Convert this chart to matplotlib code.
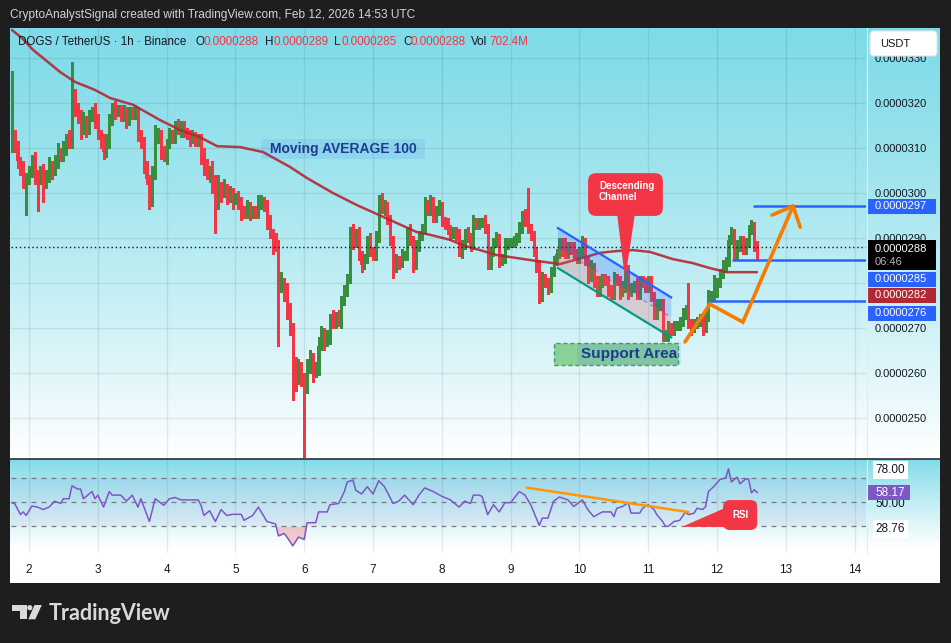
import matplotlib
matplotlib.use("Agg")
import matplotlib.pyplot as plt
import numpy as np
from matplotlib.patches import Rectangle, Polygon, FancyBboxPatch, Circle

plt.rcParams['font.family'] = ['Liberation Sans', 'DejaVu Sans']

# ---------------- data (prices in units of 1e-7 USDT) ----------------
hour_start = -6          # first candle = Feb 1 18:00, hours counted from Feb 2 00:00
first_open = 310

close_feb01 = [313, 310, 307, 305, 303, 303]
close_feb02 = [305, 307, 304, 303, 305, 302, 304, 306, 305, 307, 309, 308,
               310, 312, 311, 320, 318, 317, 314, 316, 314, 317, 318, 316]
close_feb03 = [313, 312, 309, 311, 316, 319, 318, 318.5, 317, 318, 316, 318,
               317.5, 318, 313, 311, 306, 303, 298, 304, 312, 313, 309, 308]
close_feb04 = [311, 313, 312, 315, 314, 315, 313.5, 313, 312, 312.5, 311.5, 312,
               308, 306, 304, 305, 302, 298, 301, 300, 301, 299, 300, 298.5]
close_feb05 = [299, 298, 296, 295.5, 297, 295.5, 296, 295.5, 297.5, 298, 297.5, 294,
               291, 289.5, 288.5, 279, 280, 278, 274, 270, 262, 259, 261, 259]
close_feb06 = [257, 261, 263.5, 260, 261, 266, 269, 267, 268, 272, 271, 272.5,
               271.5, 276, 278, 281, 291, 289, 291, 286, 284, 285.5, 289, 287]
close_feb07 = [286, 290, 298, 296.5, 297, 294, 289.5, 283.5, 285, 284.5, 286, 286,
               291, 289.5, 284, 288, 290.5, 292, 297.5, 296, 298, 294.5, 296, 297]
close_feb08 = [293.6, 293, 291.8, 291, 291.5, 290.5, 287, 288.5, 291, 290, 288.5, 293.5,
               293, 293.5, 293.5, 292, 284, 287, 289, 289.8, 285, 285.5, 288.5, 289]
close_feb09 = [289, 289.5, 290, 292, 295, 293.6, 292, 290.5, 287, 284, 277, 281,
               280, 279, 282.5, 285, 286.5, 288.5, 287, 286.5, 288, 287.5, 286.5, 285.5]
close_feb10 = [287, 289, 285, 281.5, 283.5, 280.5, 278, 280, 281, 280.5, 278.5, 277.5,
               281, 280.5, 278, 279, 283, 278, 279, 279.5, 277.5, 280.5, 280, 279]
close_feb11 = [280.5, 277, 273, 275, 275.5, 268, 268.5, 270, 269.5, 270.5, 270.5, 271.5,
               273, 274, 271, 270, 271, 271.5, 272, 270, 272.5, 277, 277.3, 277.8]
close_feb12 = [280, 282, 283.5, 284.7, 289.6, 291, 286, 288, 289.5, 287.5, 289, 291.8,
               292.5, 288.2, 287.9]

wick_up_feb01 = [14, 1, 1.5, 1, 2, 1.5]
wick_up_feb02 = [1, 1.5, 2, 1, 1, 1.5, 1, 2, 1, 1.5, 2, 1, 1.5, 1, 2, 9, 3, 2, 1.5, 2, 1, 1.5, 1, 2]
wick_up_feb03 = [1.5, 1, 1, 2, 1.5, 1, 1.5, 1, 1, 1.5, 1, 1, 1, 1.5, 1, 1, 1.5, 1, 1, 2, 3, 1.5, 1, 1.5]
wick_up_feb04 = [1, 1.5, 1, 1, 1.5, 1, 1, 1, 1, 1.5, 1, 1, 1, 2, 1.5, 1, 2, 2, 3, 1.5, 2, 1, 1.5, 1]
wick_up_feb05 = [1, 1.5, 1, 1, 1.5, 1, 1, 1, 2, 1.5, 1, 1, 1, 1, 1.5, 1, 2.5, 1, 2, 1.5, 1, 1.5, 2, 1.5]
wick_up_feb06 = [1, 2, 1.5, 1, 1.5, 2, 1.5, 1, 1.5, 1, 2, 1, 1.5, 1, 1.5, 1, 1.5, 2, 1, 1.5, 1, 1, 1.5, 2]
wick_up_feb07 = [1, 1.5, 1.5, 2, 1.5, 1, 1, 1, 1.5, 1, 1.5, 1, 1.5, 2, 1, 1.5, 1, 1, 1.5, 1, 1.5, 1, 1, 1.5]
wick_up_feb08 = [1, 1, 1.5, 1, 1, 1, 1.5, 1, 1, 1.5, 1, 1.5, 1, 1, 1, 1.5, 1, 1, 1, 1.5, 1, 1, 1.5, 1]
wick_up_feb09 = [1, 1, 1, 1.5, 1, 1.5, 7.4, 1, 1, 1, 1, 1.5, 1, 1, 1, 1, 1, 1.5, 1.5, 3, 1, 1, 1.5, 1]
wick_up_feb10 = [1, 1.5, 1, 1, 1.5, 1, 1, 1.5, 1, 1, 1, 1, 1.5, 1, 1, 1.5, 1, 1, 1, 1, 1.5, 1, 1, 1]
wick_up_feb11 = [1, 1, 1, 1.5, 1, 1, 1, 1.5, 1, 1, 1, 1, 1.5, 1, 6, 1, 1, 1, 1, 1, 1, 1.5, 1, 4]
wick_up_feb12 = [1, 1, 1.5, 1, 1, 1.5, 1, 1.5, 1, 1, 1, 1, 1.5, 1, 1.1]

wick_dn_feb01 = [1, 1, 1.5, 1, 2, 8]
wick_dn_feb02 = [1, 1.5, 2, 7, 1, 4, 1, 1.5, 2, 1, 1.5, 1, 1, 1.5, 1, 1, 1, 1.5, 2, 1, 1.5, 1, 1, 1.5]
wick_dn_feb03 = [1, 2, 1.5, 1, 1, 1, 1.5, 1, 1, 1, 1.5, 1, 1, 1, 1.5, 1, 1.5, 1, 1.5, 1, 1, 1, 1.5, 1]
wick_dn_feb04 = [1.5, 1, 1, 1, 1, 1.5, 1, 1, 1.5, 1, 1, 1, 1.5, 2, 1, 1.5, 2, 7, 1.5, 2, 1, 1.5, 1, 2]
wick_dn_feb05 = [1, 1.5, 2, 1, 1, 1.5, 1, 1, 1, 1, 1.5, 2, 1, 3, 1.5, 13, 1, 2, 2, 1.5, 8, 3, 1.5, 2]
wick_dn_feb06 = [17, 1.5, 1, 2, 1, 1.5, 1, 2, 1, 1.5, 1, 1, 1, 1.5, 1, 1, 1, 1.5, 1, 1, 1.5, 1, 1, 1]
wick_dn_feb07 = [1, 1, 1, 1, 1.5, 1, 1, 2.5, 1, 1.5, 1, 1, 1, 1, 1.5, 1, 1, 1, 1, 1, 1, 1, 1, 1]
wick_dn_feb08 = [1, 1, 1, 1.5, 1, 1, 1, 1.5, 1, 1, 1.5, 1, 1, 1, 1, 1, 1, 1, 1, 1, 1.5, 1, 1, 1]
wick_dn_feb09 = [1, 1, 1, 1, 1, 1, 1, 1, 1, 1.5, 1.5, 1, 1, 1.5, 1, 1, 1, 1, 1, 1, 1, 1, 1, 1]
wick_dn_feb10 = [1, 1, 1, 1.5, 1, 1.5, 1, 1, 1, 1, 1.5, 1, 1, 1, 1.5, 1, 1, 1.5, 1, 1, 1, 1, 1, 1]
wick_dn_feb11 = [1, 1, 1, 1, 1, 1, 1, 1.5, 1, 1, 1, 1, 1, 1, 1, 1.5, 1, 1, 1, 1.5, 1, 1, 1, 1]
wick_dn_feb12 = [1, 1, 1, 1, 1, 1, 1, 1, 1, 1, 1, 1, 1, 1, 2.9]

# Moving average 100 (read points: hour, value)
ma100_t = [-6.3, -2.4, 1.4, 6.6, 10.8, 16, 23, 28.3, 36.3, 45.7, 52.7, 59.6, 65.6, 73.6,
           81.6, 91, 97, 106, 114.4, 123.5, 135.3, 139.9, 146.8, 151.4, 163.2, 174.7,
           185.2, 193.2, 199.2, 205.1, 210.7, 216.6, 224.6, 231.6, 237.5, 243.4, 253.9]
ma100_v = [336.4, 334.4, 331.8, 329.1, 326.9, 324.7, 322.9, 321.1, 319.6, 316.2, 314, 312.4,
           310.4, 310.2, 309.1, 305.8, 303.3, 300, 297.3, 294.7, 291.3, 290.7, 289.6, 288.4,
           286.2, 285.1, 284.2, 285.6, 286.7, 287.1, 287.3, 286.9, 285.3, 284.4, 283.3,
           282.4, 282.4]

# RSI (read points: hour, value)
rsi_t = [-6, -5, -3, -2, -1, 1, 3, 5, 7, 9, 11, 12, 14, 15, 17, 18, 19, 22, 23, 24, 26, 28,
         29, 32, 34, 36, 38, 39, 42, 44, 47, 49, 51, 53, 59, 60, 61, 63, 65, 67, 69, 71, 74,
         75, 78, 80, 83, 86, 87, 89, 90, 92, 94, 96, 97, 100, 101, 104, 105, 108, 110, 111,
         113, 114, 116, 118, 120, 122, 124, 127, 129, 131, 134, 136, 138, 141, 144, 147,
         150, 152, 154, 155, 157, 158, 160, 162, 164, 166, 168, 171, 173, 175, 178, 179,
         181, 183, 185, 188, 190, 193, 195, 197, 200, 203, 204, 205, 207, 209, 210, 213,
         214, 216, 218, 219, 221, 222, 223, 225, 227, 229, 230, 232, 233, 235, 236, 237,
         239, 241, 243, 244, 245, 247, 248, 250, 251, 252, 253, 254]
rsi_v = [49.7, 49, 39.8, 42, 39, 46.9, 46, 44, 46, 51, 49, 53, 53, 63.8, 61, 61, 53, 59, 53,
         56, 46, 59, 56, 56, 51, 56, 46, 53, 34, 53, 47.5, 53, 54, 52, 52, 47.5, 39, 43, 34,
         44, 39, 40, 40, 35, 39, 46, 34, 32, 22, 24, 21, 13.7, 21, 19, 33, 33, 42, 42, 48,
         49, 59, 67, 68.5, 60, 57, 63, 57, 68, 63, 49, 51, 56, 48, 56, 62, 59, 55, 52, 46,
         51, 49, 56, 56, 55, 39.7, 48, 42, 49.7, 49.7, 59, 56, 48, 30.7, 36.8, 36.8, 51,
         54.4, 52, 46.5, 52, 43.6, 38, 42, 42, 38, 45, 46.5, 49.7, 41, 41, 45, 48, 44, 39.7,
         34, 30, 30, 34, 35, 42, 39.7, 41, 45, 44, 46.5, 59, 63.5, 69, 70.5, 78, 67, 71,
         65.5, 69.5, 69.5, 58, 60.5, 58.17]
rsi_trend_t = [173.7, 229.9]
rsi_trend_v = [62.2, 41.9]

day_labels = ['2', '3', '4', '5', '6', '7', '8', '9', '10', '11', '12', '13', '14']
price_ticks = [250, 260, 270, 280, 290, 300, 310, 320, 330]
hidden_price_ticks = [280]          # covered by the price badges in the original
rsi_ticks = [28.76, 50.00, 78.00]
rsi_last = 58.17
level_values = [297, 285, 276]
level_from = [252.5, 245.2, 237.5]

title = "CryptoAnalystSignal created with TradingView.com, Feb 12, 2026 14:53 UTC"
symbol = "DOGS / TetherUS \u00b7 1h \u00b7 Binance"
ohlc_names = ['O', 'H', 'L', 'C']
ohlc_values = ['0.0000288', '0.0000289', '0.0000285', '0.0000288']
volume = '702.4M'
countdown = '06:46'

# channel drawing (hour, price)
chan_t = [184.5, 224.0]
chan_upper = [292.2, 276.8]
chan_lower = [283.3, 267.9]
# orange projection path
proj_t = [228.8, 237.5, 249.0, 266.5]
proj_p = [266.9, 275.3, 271.3, 297.1]
proj_head_t = [259.2, 266.5, 269.0]
proj_head_p = [295.1, 297.1, 292.4]

# ---------------- styling ----------------
W, H = 951, 643
GREEN = '#388e3c'
RED = '#f23645'
BLUE = '#2962ff'
MA_RED = '#b22833'
TXT = '#131722'
TOP = (0.50, 0.86, 0.91)
BOT = (1.0, 1.0, 1.0)
FAM = ['Liberation Sans', 'DejaVu Sans']

fig = plt.figure(figsize=(W / 100, H / 100), dpi=100, facecolor='#1e1e1e')


def rect_frac(x0, y0, x1, y1):
    return [x0 / W, 1 - y1 / H, (x1 - x0) / W, (y1 - y0) / H]


def vgrad(top, bot, n=256, power=1.0):
    f = np.linspace(0, 1, n) ** power
    arr = np.array(top)[None, :] * (1 - f)[:, None] + np.array(bot)[None, :] * f[:, None]
    return arr[:, None, :]


# background layer
bg = fig.add_axes([0, 0, 1, 1], zorder=0)
bg.add_patch(Rectangle((10, 28), 930, 555, fc='white', ec='none', zorder=0))
bg.imshow(vgrad(TOP, BOT, power=1.25), extent=(10, 940, 458, 28), aspect='auto',
          interpolation='bilinear', zorder=1)
bg.imshow(vgrad(TOP, BOT, power=0.9), extent=(10, 940, 548, 459), aspect='auto',
          interpolation='bilinear', zorder=1)
bg.set_xlim(0, W)
bg.set_ylim(H, 0)
bg.axis('off')

# main price pane
ax = fig.add_axes(rect_frac(11, 29, 866, 458), zorder=2)
ax.set_facecolor('none')
ax.set_xlim(-6.28, 291.95)
ax.set_ylim(241.1, 336.44)

# RSI pane
ax2 = fig.add_axes(rect_frac(11, 459, 866, 553), zorder=2)
ax2.set_facecolor('none')
ax2.set_xlim(-6.28, 291.95)
ax2.set_ylim(7.75, 86.1)

# overlay (pixel coordinates)
ov = fig.add_axes([0, 0, 1, 1], zorder=5)
ov.set_xlim(0, W)
ov.set_ylim(H, 0)
ov.axis('off')


def to_px(a, t, v):
    return ov.transData.inverted().transform(a.transData.transform((t, v)))


day_t = [24 * i for i in range(len(day_labels))]
for a in (ax, ax2):
    for s in a.spines.values():
        s.set_visible(False)
    a.set_xticks(day_t)
    a.set_axisbelow(True)

# ---- candles ----
closes = np.array(close_feb01 + close_feb02 + close_feb03 + close_feb04 + close_feb05 +
                  close_feb06 + close_feb07 + close_feb08 + close_feb09 + close_feb10 +
                  close_feb11 + close_feb12, float)
wu = np.array(wick_up_feb01 + wick_up_feb02 + wick_up_feb03 + wick_up_feb04 + wick_up_feb05 +
              wick_up_feb06 + wick_up_feb07 + wick_up_feb08 + wick_up_feb09 + wick_up_feb10 +
              wick_up_feb11 + wick_up_feb12, float)
wd = np.array(wick_dn_feb01 + wick_dn_feb02 + wick_dn_feb03 + wick_dn_feb04 + wick_dn_feb05 +
              wick_dn_feb06 + wick_dn_feb07 + wick_dn_feb08 + wick_dn_feb09 + wick_dn_feb10 +
              wick_dn_feb11 + wick_dn_feb12, float)
n = len(closes)
hrs = np.arange(hour_start, hour_start + n)
opens = np.concatenate([[first_open], closes[:-1]])
highs = np.maximum(opens, closes) + wu
lows = np.minimum(opens, closes) - wd
cols = np.where(closes >= opens, GREEN, RED)

ax.grid(True, color='#1c3a4a', alpha=0.1, lw=1)
ax.vlines(hrs, lows, highs, colors=cols, lw=1.0, zorder=3, antialiased=False)
ax.bar(hrs, np.maximum(np.abs(closes - opens), 0.35), bottom=np.minimum(opens, closes),
       width=0.75, color=cols, lw=0, zorder=4, antialiased=False)

# moving average
ax.plot(ma100_t, ma100_v, color=MA_RED, lw=1.8, alpha=0.9, zorder=5, solid_capstyle='round')

# current price dotted line
ax.axhline(closes[-1], color=TXT, lw=1, ls=(0, (1, 2)), zorder=6)

# horizontal levels
for lv, t0 in zip(level_values, level_from):
    ax.hlines(lv, t0, 291.95, color=BLUE, lw=1.8, zorder=6)

# channel
mid = [(u + l) / 2 for u, l in zip(chan_upper, chan_lower)]
ax.add_patch(Polygon([(chan_t[0], chan_upper[0]), (chan_t[1], chan_upper[1]),
                      (chan_t[1], mid[1]), (chan_t[0], mid[0])],
                     closed=True, fc=BLUE, alpha=0.22, ec='none', zorder=6))
ax.add_patch(Polygon([(chan_t[0], mid[0]), (chan_t[1], mid[1]),
                      (chan_t[1], chan_lower[1]), (chan_t[0], chan_lower[0])],
                     closed=True, fc='#f7525f', alpha=0.22, ec='none', zorder=6))
ax.plot(chan_t, chan_upper, color=BLUE, lw=1.6, zorder=7)
ax.plot(chan_t, chan_lower, color='#089981', lw=1.6, zorder=7)
ax.plot(chan_t, mid, color=RED, lw=1, ls=(0, (3, 3)), alpha=0.6, zorder=7)

# support area
ax.add_patch(Rectangle((183.1, 261.8), 43.3, 4.9, fc='#86cf94', ec='#3f9a55', lw=1,
                       ls=(0, (3, 2)), alpha=0.95, zorder=6))
ax.add_patch(Rectangle((191.1, 261.8), 36.4, 4.9, fc=BLUE, ec='none', alpha=0.1, zorder=6))
ax.text(209.3, 264.2, 'Support Area', color='#1a3b8e', fontsize=11, fontweight='bold',
        ha='center', va='center', zorder=7)

# moving average label
ax.add_patch(Rectangle((80.9, 307.6), 57.2, 4.4, fc=BLUE, ec='none', alpha=0.1, zorder=6))
ax.text(109.5, 309.8, 'Moving AVERAGE 100', color='#1c3d8f', fontsize=10, fontweight='bold',
        ha='center', va='center', zorder=7)

# orange projection
ax.plot(proj_t, proj_p, color='#f57c00', lw=2.6, zorder=8, solid_capstyle='round',
        solid_joinstyle='miter')
ax.plot(proj_head_t, proj_head_p, color='#f57c00', lw=2.6, zorder=8, solid_capstyle='round')

# price axis labels
ax.yaxis.tick_right()
ax.set_yticks(price_ticks)
ax.set_yticklabels(['' if v in hidden_price_ticks else f'0.0000{v}' for v in price_ticks])
ax.tick_params(axis='y', length=0, pad=6.5, labelsize=8, labelcolor=TXT)
ax.tick_params(axis='x', length=0, labelbottom=False)

# ---- RSI ----
ax2.grid(True, axis='x', color='#1c3a4a', alpha=0.1, lw=1)
ax2.axhspan(30, 70, color='#7e57c2', alpha=0.08, lw=0)
for lvl in (70, 50, 30):
    ax2.axhline(lvl, color='#787b86', lw=0.9, ls=(0, (4, 4)))
rt = np.array(rsi_t, float)
rv = np.array(rsi_v, float)
ax2.fill_between(rt, rv, 30, where=rv < 30, interpolate=True, color='#f23645', alpha=0.25, lw=0)
ax2.fill_between(rt, rv, 70, where=rv > 70, interpolate=True, color='#089981', alpha=0.2, lw=0)
ax2.plot(rt, rv, color='#7e57c2', lw=1.1, zorder=4)
ax2.plot(rsi_trend_t, rsi_trend_v, color='#ff9800', lw=1.8, zorder=5)

ax2.yaxis.tick_right()
ax2.set_yticks(rsi_ticks)
ax2.set_yticklabels([f'{v:.2f}' for v in rsi_ticks])
ax2.tick_params(axis='y', length=0, pad=7, labelsize=8.5, labelcolor=TXT)
for lbl in ax2.get_yticklabels():
    lbl.set_family(FAM)
    if lbl.get_text() != '50.00':
        lbl.set_bbox(dict(fc='white', ec='none', boxstyle='square,pad=0.25'))
ax2.set_xticklabels(day_labels)
ax2.tick_params(axis='x', length=0, pad=8, labelsize=8.5, labelcolor=TXT)
for lbl in ax2.get_xticklabels() + ax.get_yticklabels():
    lbl.set_family(FAM)

# ---------------- overlay decorations ----------------
ov.plot([866.5, 866.5], [28, 553], color='#e6e9ef', lw=0.8)
ov.plot([10, 940], [458.5, 458.5], color='#2a2e39', lw=1.2)

# title
ov.text(10, 15, title, color='#d1d4dc', fontsize=8.6, va='center', ha='left')

# header
ov.text(18, 42, symbol, color=TXT, fontsize=8.4, va='center')
hx = [(195, 203.3), (265, 273.3), (334.3, 341.7), (403.3, 410.7)]
for (xn, xv), nm, val in zip(hx, ohlc_names, ohlc_values):
    ov.text(xn, 42, nm, color=TXT, fontsize=8.4, va='center')
    ov.text(xv, 42, val, color=RED, fontsize=8.4, va='center')
ov.text(471, 42, 'Vol', color=TXT, fontsize=8.4, va='center')
ov.text(489, 42, volume, color=RED, fontsize=8.4, va='center')

# USDT button
ov.add_patch(FancyBboxPatch((870, 31), 67, 25, boxstyle='round,pad=0,rounding_size=4',
                            fc='white', ec='#e0e3eb', lw=0.8))
ov.text(880, 44, 'USDT', color=TXT, fontsize=8, va='center')


def badge(yc, text, bg_col, fg='white', h=15, x0=868, w=68, fs=8):
    ov.add_patch(Rectangle((x0, yc - h / 2), w, h, fc=bg_col, ec='none'))
    ov.text(x0 + 7, yc, text, color=fg, fontsize=fs, va='center', ha='left')


badge(to_px(ax, 0, level_values[0])[1], f'0.0000{level_values[0]}', BLUE)
# current price + countdown box
ov.add_patch(Rectangle((868, 240), 68, 30, fc='black', ec='none'))
ov.text(875, 248.5, f'0.0000{closes[-1]:.0f}', color='white', fontsize=8, va='center')
ov.text(875, 262, countdown, color='#b2b5be', fontsize=8, va='center')
badge(279.5, f'0.0000{level_values[1]}', BLUE)
badge(295.5, f'0.0000{ma100_v[-1]:.0f}', MA_RED)
badge(313, f'0.0000{level_values[2]}', BLUE)

# RSI value badge
yr = to_px(ax2, 0, rsi_last)[1]
ov.add_patch(Rectangle((868, yr - 7.5), 42, 15, fc='#7e57c2', ec='none'))
ov.text(875, yr, f'{rsi_last:.2f}', color='white', fontsize=8.5, va='center')

# Descending Channel callout
bx0, by0 = to_px(ax, 195.0, 304.4)
bx1, by1 = to_px(ax, 221.1, 294.9)
tipx, tipy = to_px(ax, 207.9, 280.7)
b1x, _ = to_px(ax, 205.1, 294.9)
b2x, _ = to_px(ax, 211.4, 294.9)
ov.add_patch(Polygon([(b1x, by1 - 3), (b2x, by1 - 3), (tipx, tipy)], closed=True,
                     fc='#f23645', ec='none'))
ov.add_patch(FancyBboxPatch((bx0, by0), bx1 - bx0, by1 - by0,
                            boxstyle='round,pad=0,rounding_size=8', fc='#f23645', ec='none'))
ov.text(bx0 + 11, by0 + 8, 'Descending\nChannel', color='white', fontsize=7,
        fontweight='bold', va='top', ha='left', linespacing=1.15)

# RSI callout
rx0, ry0 = to_px(ax2, 242.1, 51.9)
rx1, ry1 = to_px(ax2, 254.0, 26.9)
rtx, rty = to_px(ax2, 227.8, 29.6)
p1 = to_px(ax2, 242.8, 45.3)
p2 = to_px(ax2, 244.1, 29.4)
ov.add_patch(Polygon([tuple(p1), tuple(p2), (rtx, rty)], closed=True, fc='#f23645', ec='none'))
ov.add_patch(FancyBboxPatch((rx0, ry0), rx1 - rx0, ry1 - ry0,
                            boxstyle='round,pad=0,rounding_size=7', fc='#f23645', ec='none'))
ov.text((rx0 + rx1) / 2, (ry0 + ry1) / 2, 'RSI', color='white', fontsize=7,
        fontweight='bold', va='center', ha='center')

# TradingView logo
LOGO = '#d9d9d9'
ov.add_patch(Polygon([(12.3, 605), (26.7, 605), (26.7, 619.3), (20, 619.3), (20, 610.7),
                      (12.3, 610.7)], closed=True, fc=LOGO, ec='none'))
ov.add_patch(Circle((29.8, 607.7), 2.6, fc=LOGO, ec='none'))
ov.add_patch(Polygon([(34.5, 605), (41.8, 605), (35.3, 619.3), (28.3, 619.3)], closed=True,
                     fc=LOGO, ec='none'))
ov.text(49, 613, 'TradingView', color=LOGO, fontsize=15.5, fontweight='bold', va='center',
        ha='left', family=['Lato', 'DejaVu Sans'])

fig.savefig('out.png', dpi=100, facecolor=fig.get_facecolor())
